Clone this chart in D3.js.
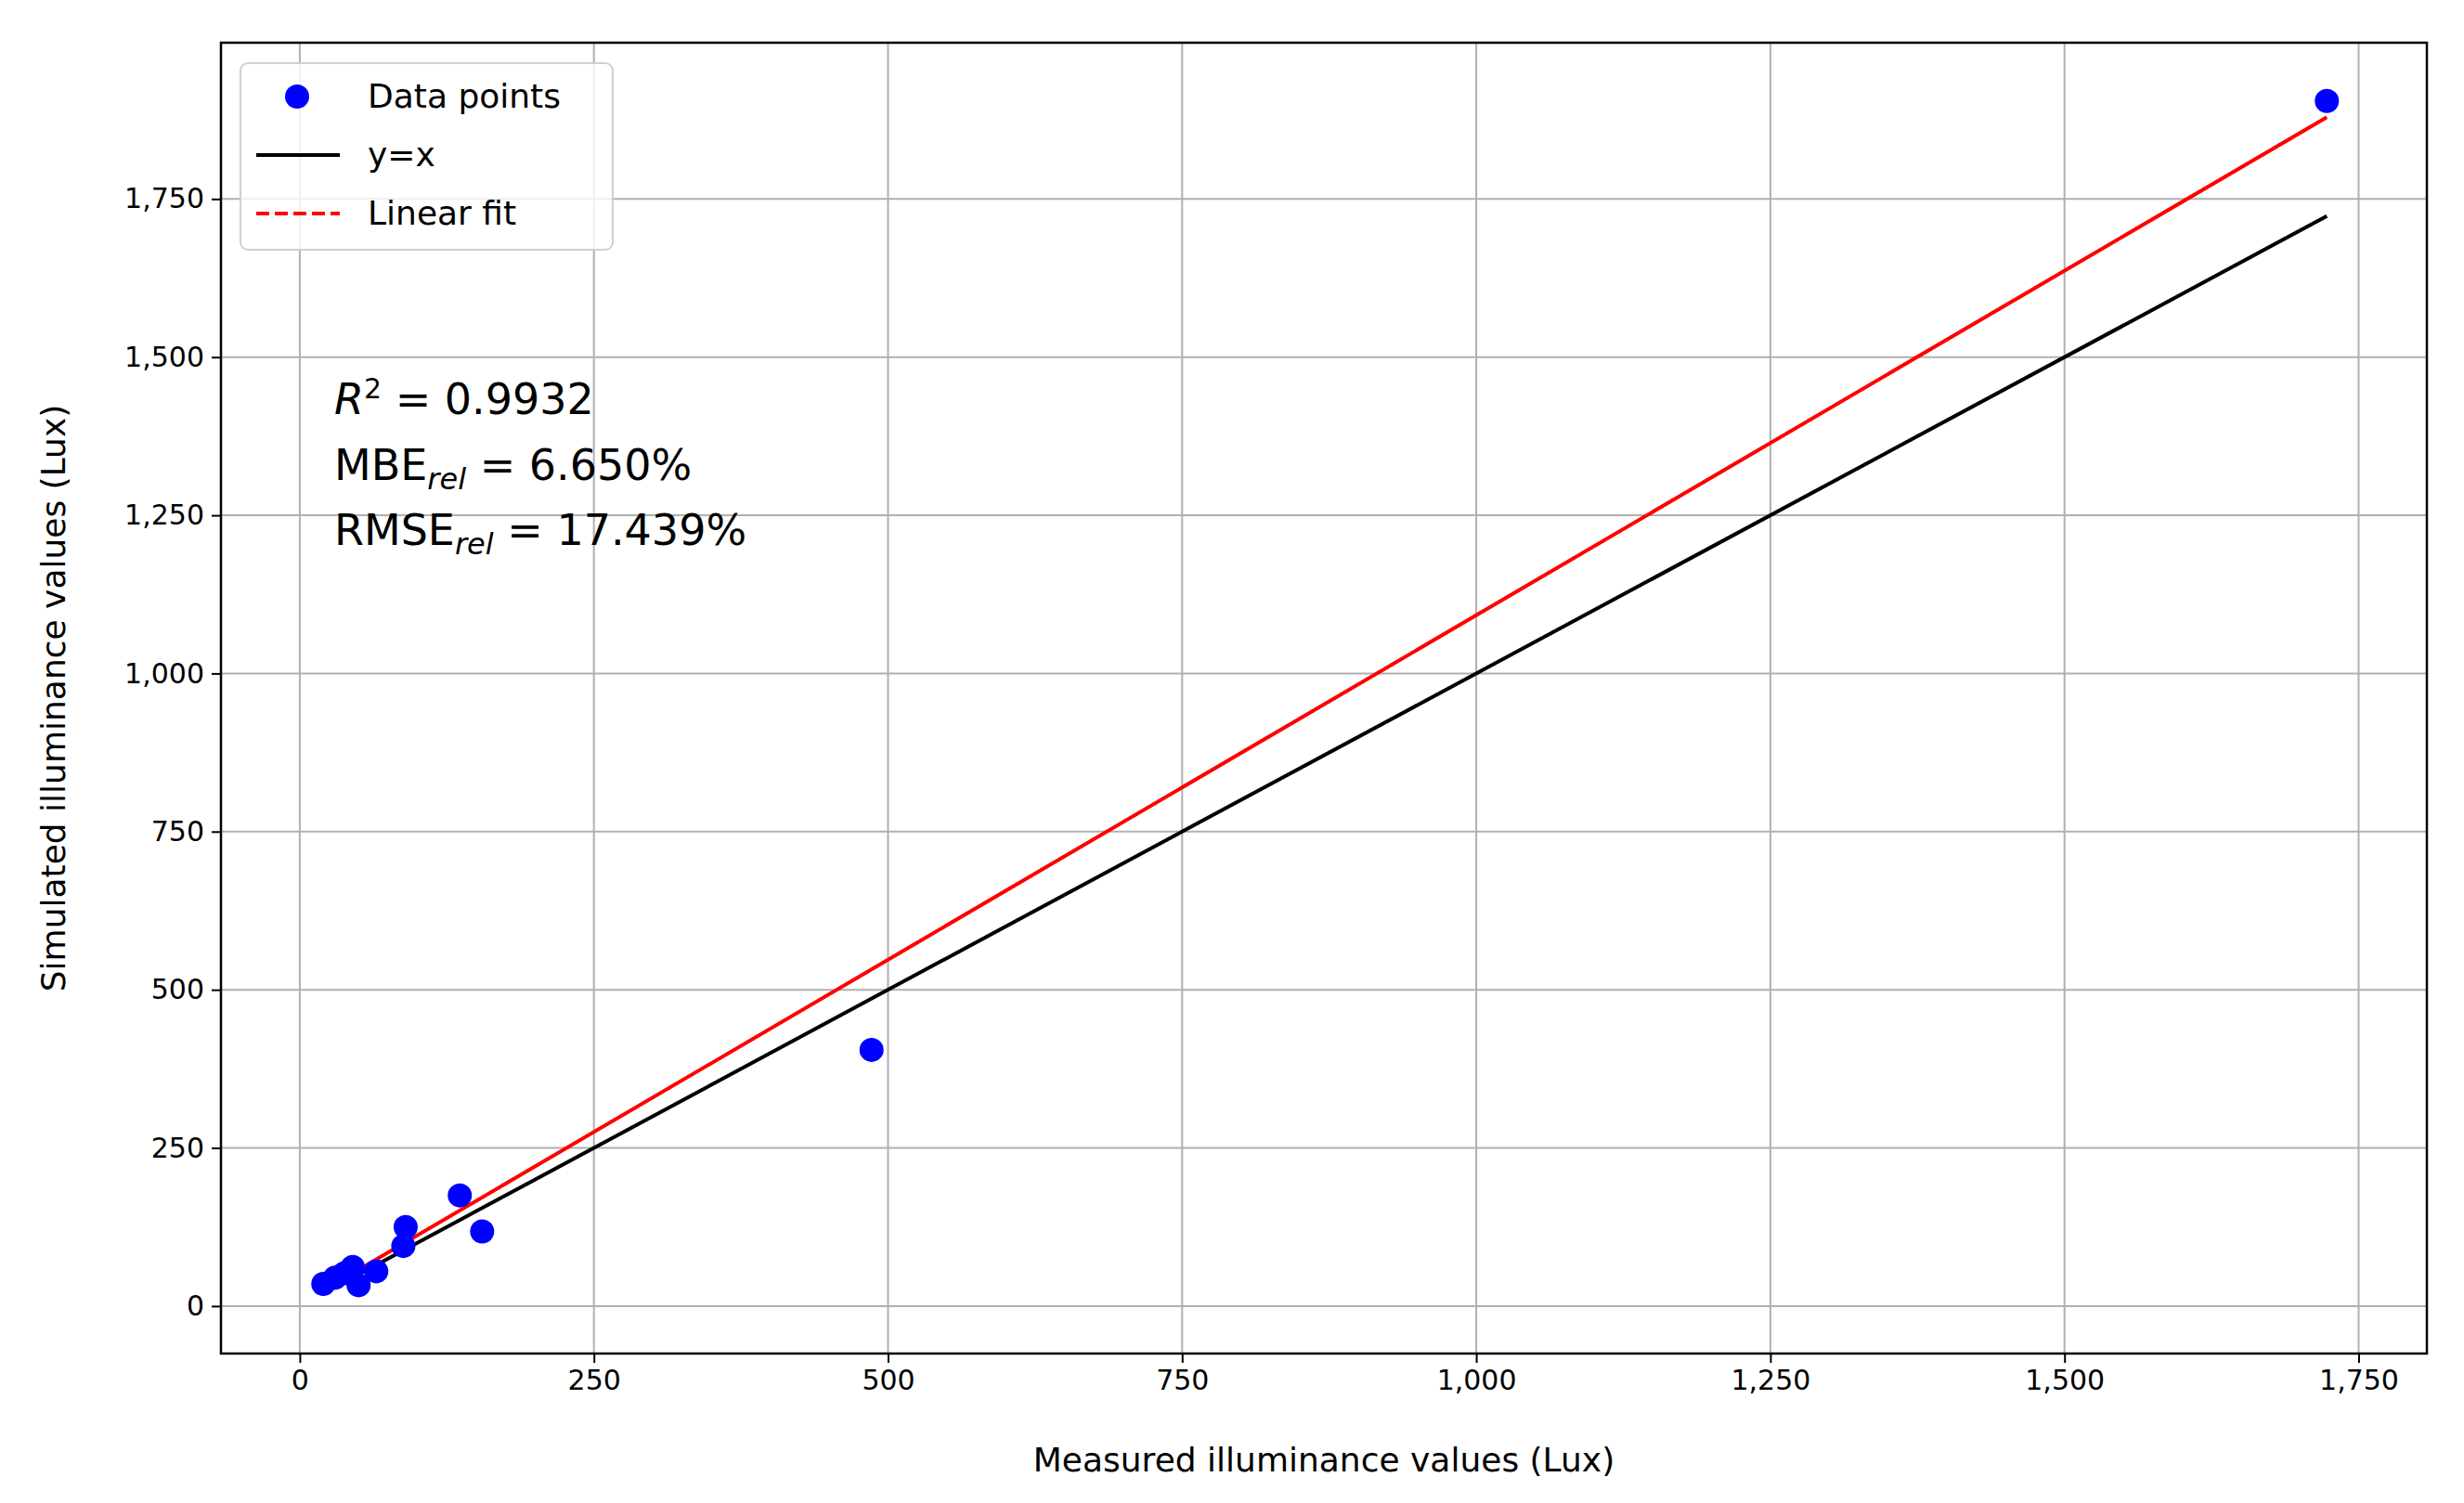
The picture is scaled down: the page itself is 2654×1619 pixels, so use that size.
<!DOCTYPE html>
<html><head><meta charset="utf-8">
<script src="https://cdn.jsdelivr.net/npm/d3@7"></script>
<style>body{margin:0;background:#fff}svg{font-family:"DejaVu Sans",sans-serif}</style>
</head><body>
<script>
const measured = [20,30,38,45,50,65,88,90,136,155,486,1723];
const simulated = [35,45,52,62,33,55,95,125,175,118,405,1905];
const fitSlope = 1.089, fitIntercept = 3;
const xTicks = [0,250,500,750,1000,1250,1500,1750];
const yTicks = [0,250,500,750,1000,1250,1500,1750];
const legendLabels = ["Data points","y=x","Linear fit"];

const W=2654,H=1619, L=238,R=2614,T=46,B=1458;
const svg=d3.select("body").append("svg").attr("width",W).attr("height",H);
const x=d3.scaleLinear().domain([-67,1808]).range([L,R]);
const y=d3.scaleLinear().domain([-75,1997]).range([B,T]);
const g=svg.append("g");
// grid
g.selectAll(".gx").data(xTicks).join("line").attr("x1",d=>x(d)).attr("x2",d=>x(d)).attr("y1",T).attr("y2",B).attr("stroke","#b0b0b0").attr("stroke-width",2);
g.selectAll(".gy").data(yTicks).join("line").attr("y1",d=>y(d)).attr("y2",d=>y(d)).attr("x1",L).attr("x2",R).attr("stroke","#b0b0b0").attr("stroke-width",2);
// axes
const xa=svg.append("g").attr("transform",`translate(0,${B})`).call(d3.axisBottom(x).tickValues(xTicks).tickSize(10).tickPadding(8));
const ya=svg.append("g").attr("transform",`translate(${L},0)`).call(d3.axisLeft(y).tickValues(yTicks).tickSize(10).tickPadding(8));
[xa,ya].forEach(a=>{a.selectAll("text").attr("font-size",30).attr("fill","#000").attr("font-family","DejaVu Sans");a.selectAll("line").attr("stroke-width",2);a.select(".domain").remove();});
// lines
const xr=d3.extent(measured);
const line=d3.line().x(d=>x(d[0])).y(d=>y(d[1]));
svg.append("path").attr("d",line(xr.map(v=>[v,v]))).attr("stroke","#000").attr("stroke-width",4).attr("fill","none");
svg.append("path").attr("d",line(xr.map(v=>[v,fitSlope*v+fitIntercept]))).attr("stroke","#ff0000").attr("stroke-width",4).attr("fill","none");
// points
svg.selectAll(".pt").data(measured).join("circle").attr("cx",d=>x(d)).attr("cy",(d,i)=>y(simulated[i])).attr("r",13).attr("fill","#0000ff");
// frame
svg.append("rect").attr("x",L).attr("y",T).attr("width",R-L).attr("height",B-T).attr("fill","none").attr("stroke","#000").attr("stroke-width",2.5);
// labels
svg.append("text").attr("x",(L+R)/2).attr("y",1585).attr("text-anchor","middle").attr("font-size",36).text("Measured illuminance values (Lux)");
svg.append("text").attr("transform",`translate(70,${(T+B)/2}) rotate(-90)`).attr("text-anchor","middle").attr("font-size",36).text("Simulated illuminance values (Lux)");
// annotation
const ann=svg.append("g").attr("font-size",46);
const t1=ann.append("text").attr("x",360).attr("y",446);
t1.append("tspan").attr("font-style","italic").text("R");
t1.append("tspan").attr("baseline-shift","super").attr("font-size",30).text("2");
t1.append("tspan").text(" = 0.9932");
const t2=ann.append("text").attr("x",360).attr("y",517);
t2.append("tspan").text("MBE");t2.append("tspan").attr("font-style","italic").attr("font-size",32).attr("dy",10).text("rel");t2.append("tspan").attr("dy",-10).text(" = 6.650%");
const t3=ann.append("text").attr("x",360).attr("y",587);
t3.append("tspan").text("RMSE");t3.append("tspan").attr("font-style","italic").attr("font-size",32).attr("dy",10).text("rel");t3.append("tspan").attr("dy",-10).text(" = 17.439%");
// legend
const lg=svg.append("g");
lg.append("rect").attr("x",259).attr("y",68).attr("width",401).attr("height",201).attr("rx",8).attr("fill","rgba(255,255,255,0.8)").attr("stroke","#d0d0d0").attr("stroke-width",2);
const ly=[104,167,230];
lg.append("circle").attr("cx",320).attr("cy",ly[0]).attr("r",13).attr("fill","#0000ff");
lg.append("line").attr("x1",276).attr("x2",366).attr("y1",ly[1]).attr("y2",ly[1]).attr("stroke","#000").attr("stroke-width",4);
lg.append("line").attr("x1",276).attr("x2",366).attr("y1",ly[2]).attr("y2",ly[2]).attr("stroke","#ff0000").attr("stroke-width",4).attr("stroke-dasharray","14,6");
lg.selectAll(".lt").data(legendLabels).join("text").attr("x",396).attr("y",(d,i)=>ly[i]+12).attr("font-size",36).text(d=>d);
</script>
</body></html>
